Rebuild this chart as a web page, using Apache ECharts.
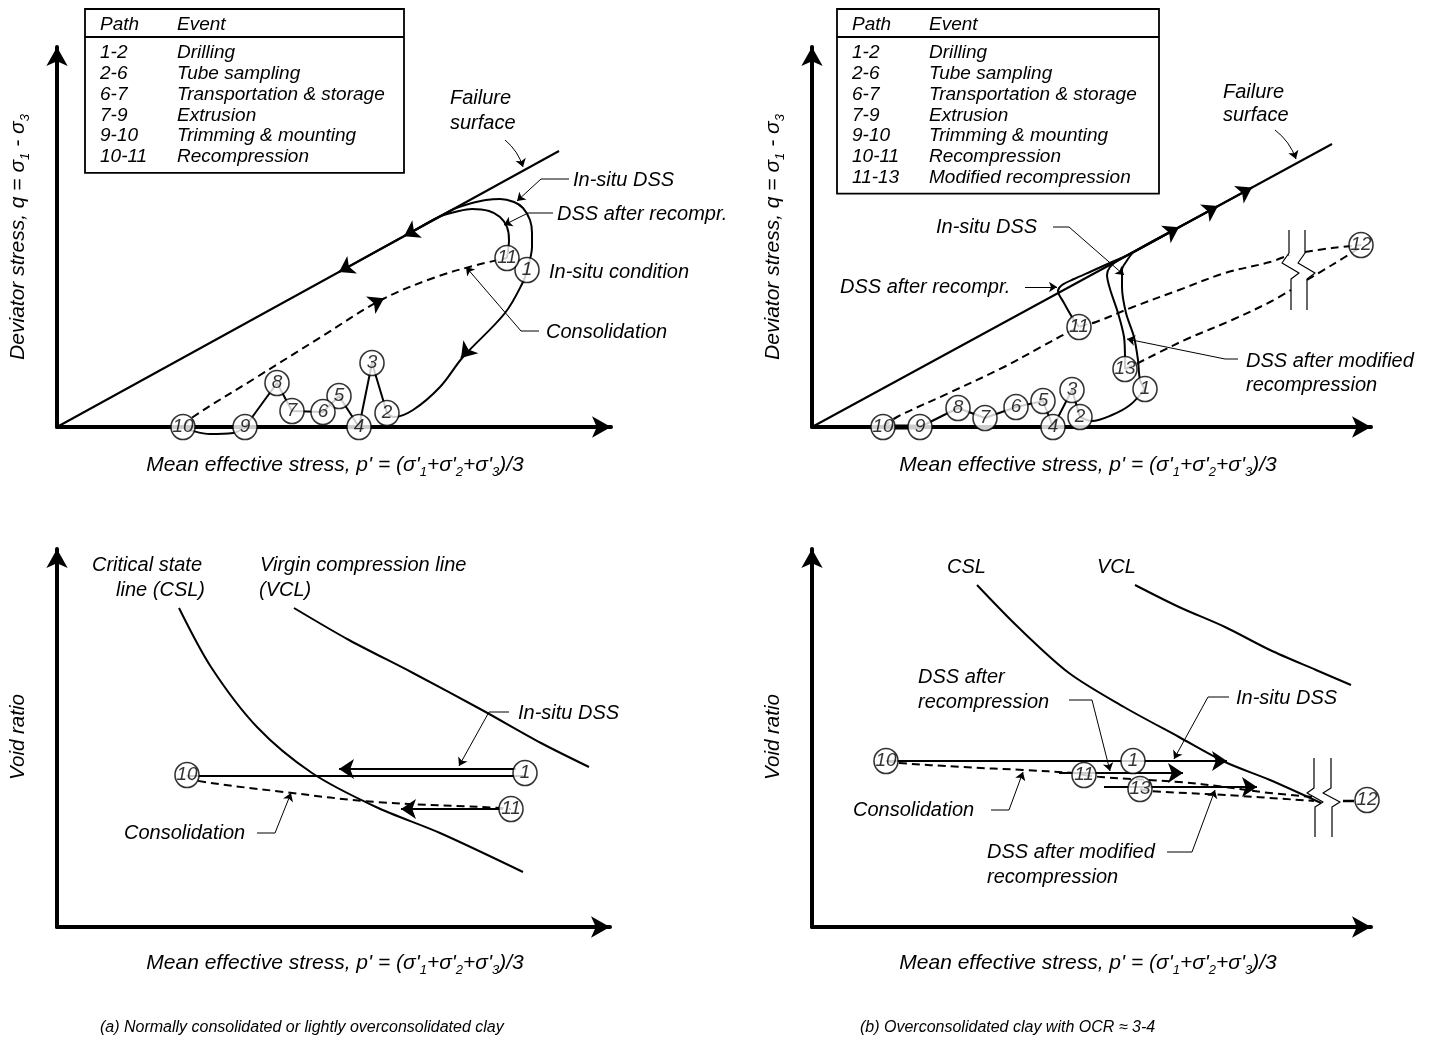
<!DOCTYPE html>
<html>
<head>
<meta charset="utf-8">
<script src="https://cdn.jsdelivr.net/npm/echarts@6/dist/echarts.min.js"></script>
<style>
html,body{margin:0;padding:0;background:#fff;}
#chart{width:1429px;height:1048px;}
</style>
</head>
<body>
<div id="chart"></div>
<script>
// ---------- (a) normally consolidated clay: stress paths in p'-q plane ----------
const aFailure = [[0, 0], [502, 276]];
const aNodes = [[470,157,'1'],[330,14,'2'],[315,64,'3'],[302,0,'4'],[282,31,'5'],[266,15,'6'],
                [235,16,'7'],[220,44,'8'],[188,0,'9'],[126,0,'10'],[450,169,'11']];
const aDrilling = [[470,157],[466,145],[448,114],[406,70],[383,40],[356,17],[337,10],[330,14]];
const aSampling = [[330,14],[315,64],[302,0],[282,31],[266,15],[235,16],[220,44],[188,0]];
const aTrimming = [[188,0],[176,-6],[153,-7],[136,-4],[126,0]];
const aConsolidation = [[126,0],[136,10],[200,50],[264,90],[324,127],[379,150],[420,162],[450,169]];
const aInsituDSS = [[470,157],[475,180],[475,194],[473,207],[466,219],[457,225],[443,228],[429,227],
                    [415,224],[402,220],[393,216],[340,187],[294,161.6]];
const aRecomprDSS = [[450,169],[452,187],[450,200],[443,210],[432,216],[415,218],[402,216],[383,210.6],[359,197.4]];
const aPathArrows = [[[411,77],[404,69]], [[318,124],[327,128.7]], [[294,161.6],[282,155]], [[359,197.4],[347,190.8]]];
const aLeaders = [[[512,248],[484,248],[460,226]], [[496,214],[471,214],[447,202]], [[482,96],[464,96],[409,160]]];
const aFailureLeader = [[448,287],[466,260]];

// ---------- (b) overconsolidated clay: stress paths in p'-q plane ----------
const bFailure = [[0,0],[520,283]];
const bNodes = [[333,38,'1'],[268,10,'2'],[260,37,'3'],[241,0,'4'],[231,26,'5'],[204,20,'6'],[173,9,'7'],
                [146,19,'8'],[108,0,'9'],[71,0,'10'],[267,100,'11'],[549,182,'12'],[313,58,'13']];
const bDrilling = [[333,38],[318,22],[300,12],[280,6],[268,10]];
const bSampling = [[268,10],[260,37],[241,0],[231,26],[204,20],[173,9],[146,19],[108,0]];
const bTrimming = [[108,0],[71,0]];
const bConsolidation = [[71,0],[85,10],[137,34],[192,60],[229,80],[267,100],[284,105],[321,120],[367,137],
                        [413,154],[458,165],[477,172]];
const bConsolidationEnd = [[493,175],[520,179],[549,182]];
const bUnloading = [[313,58],[322,62],[348,75],[375,88],[420,107],[458,125],[479,137]];
const bUnloadingEnd = [[495,147],[520,162],[549,180]];
const bInsituDSS = [[333,38],[328,47],[326,67],[322,90],[314,114],[310,140],[310,157],[314,165],[322,175],
                    [380,206.8],[428,232.9]];
const bModifiedDSS = [[313,58],[313,67],[312,90],[306,114],[298,138],[295,152],[298,160],[306,166.5],
                      [360,195.9],[394,214.4]];
const bRecomprDSS = [[267,100],[260,110],[252,124],[246,136],[250,142],[262,148],[280,156],[300,165],
                     [320,174.1],[355,193.2]];
const bBreakL = [[477,197],[477,174],[470,164],[487,154],[479,148],[479,117]];
const bBreakR = [[493,197],[493,174],[486,164],[503,154],[495,148],[495,117]];
const bPathArrows = [[[355,193.2],[367,199.7]], [[394,214.4],[406,220.9]], [[428,232.9],[440,239.5]]];
const bLeaders = [[[241,200],[257,200],[312,152]], [[213,140],[245,140]], [[426,68],[413,68],[315,88]]];
const bFailureLeader = [[463,297],[484,268]];

// ---------- (a) void ratio vs p' ----------
const cCSL = [[122,319],[154,260],[200,200],[255,154],[319,120],[383,94],[466,55]];
const cVCL = [[237,319],[292,287],[356,254],[425,217],[484,184],[532,160]];
const cNodes = [[130,152,'10'],[468,154,'1'],[454,118,'11']];
const cTrimmed = [[130,151],[468,151]];
const cConsolidation = [[130,152],[136,147],[227,135],[319,125],[445,119],[454,118]];
const cPathArrows = [[[459,158],[282,158]], [[446,118],[344,118]]];
const cLeaders = [[[452,215],[432,215],[402,161]], [[200,94],[218,94],[234,134]]];

// ---------- (b) void ratio vs p' ----------
const dCSL = [[165,342],[206,300],[257,254],[312,220],[367,190],[413,165],[458,147],[509,124]];
const dVCL = [[323,342],[367,320],[413,300],[458,277],[504,257],[539,242]];
const dNodes = [[74,166,'10'],[321,166,'1'],[272,152,'11'],[328,138,'13'],[555,127,'12']];
const dConsolidation = [[74,166],[87,164],[150,160],[211,157],[261,154],[272,152]];
const dToBreakA = [[272,152],[289,150],[367,145],[413,140],[458,134],[502,130]];
const dToBreakB = [[328,138],[339,136],[413,132],[502,126]];
const dAfterBreak = [[531,126],[542,126]];
const dBreakL = [[502,169],[502,139],[495,134],[511,125],[503,120],[503,90]];
const dBreakR = [[519,169],[519,139],[511,134],[528,125],[520,120],[520,90]];
const dPathArrows = [[[74,166],[415,166]], [[247,154],[371,154]], [[292,140],[445,140]]];
const dLeaders = [[[257,227],[280,227],[298,156]], [[417,230],[396,230],[362,168]],
                  [[179,117],[197,117],[211,155]], [[355,75],[380,75],[403,137]]];

// ---------- sampling event tables ----------
const tableA = [['1-2','Drilling'],['2-6','Tube sampling'],['6-7','Transportation & storage'],
                ['7-9','Extrusion'],['9-10','Trimming & mounting'],['10-11','Recompression']];
const tableB = tableA.concat([['11-13','Modified recompression']]);

// ---------- layout ----------
const FAM = '"Liberation Sans", Arial, Helvetica, sans-serif';
const font = s => `italic ${s}px ${FAM}`;
const grids = [
  {left: 57,  top: 47,  width: 554, height: 380},
  {left: 812, top: 47,  width: 559, height: 380},
  {left: 57,  top: 549, width: 553, height: 378},
  {left: 812, top: 549, width: 559, height: 378}
];
const axisLine = {show: true, onZero: false, symbol: ['none', 'arrow'], symbolSize: [16, 19],
                  lineStyle: {color: '#000', width: 4}};
const hidden = {axisTick: {show: false}, axisLabel: {show: false}, splitLine: {show: false}};
const xAxes = grids.map((g, i) => Object.assign({type: 'value', gridIndex: i, min: 0, max: g.width, axisLine}, hidden));
const yAxes = grids.map((g, i) => Object.assign({type: 'value', gridIndex: i, min: 0, max: g.height, axisLine}, hidden));

function curve(gi, pts, o) {
  o = o || {};
  return {type: 'line', xAxisIndex: gi, yAxisIndex: gi, data: pts, smooth: o.smooth === undefined ? 0.35 : o.smooth,
          symbol: 'none', clip: false, silent: true, z: o.z || 3,
          lineStyle: {color: '#000', width: o.w || 2, type: o.dash ? [8, 5] : 'solid', cap: 'butt', join: 'round'}};
}
function arrows(gi, segs, size, w, curveness) {
  return {type: 'lines', coordinateSystem: 'cartesian2d', xAxisIndex: gi, yAxisIndex: gi,
          data: segs.map(c => ({coords: c})), symbol: ['none', 'arrow'], symbolSize: size, clip: false, silent: true, z: 4,
          lineStyle: {color: '#000', width: w, opacity: 1, curveness: curveness || 0}};
}
// leader lines: polyline body + arrowed last leg
function leaders(gi, list) {
  const out = [];
  list.forEach(p => { if (p.length > 2) out.push(curve(gi, p.slice(0, -1), {smooth: false, w: 1})); });
  out.push(arrows(gi, list.map(p => p.slice(-2)), 8, 1));
  return out;
}
function nodes(gi, pts) {
  return {type: 'scatter', xAxisIndex: gi, yAxisIndex: gi, data: pts, symbol: 'circle', symbolSize: [24, 25],
          clip: false, silent: true, z: 6,
          itemStyle: {color: '#fff', borderColor: '#000', borderWidth: 1.6},
          label: {show: true, position: 'inside', formatter: p => p.value[2], color: '#000',
                  fontStyle: 'italic', fontSize: 19, fontFamily: FAM}};
}

const series = [
  // (a) p'-q
  curve(0, aFailure, {smooth: false}),
  curve(0, aDrilling), curve(0, aSampling, {smooth: false}), curve(0, aTrimming),
  curve(0, aConsolidation, {dash: true}),
  curve(0, aInsituDSS, {smooth: 0.3}), curve(0, aRecomprDSS, {smooth: 0.3}),
  arrows(0, aPathArrows, 15, 2),
  arrows(0, [aFailureLeader], 8, 1, 0.15),
  ...leaders(0, aLeaders),
  nodes(0, aNodes),
  // (b) p'-q
  curve(1, bFailure, {smooth: false}),
  curve(1, bDrilling), curve(1, bSampling, {smooth: false}), curve(1, bTrimming, {smooth: false, w: 5}),
  curve(1, bConsolidation, {dash: true}), curve(1, bConsolidationEnd, {dash: true}),
  curve(1, bUnloading, {dash: true}), curve(1, bUnloadingEnd, {dash: true}),
  curve(1, bInsituDSS, {smooth: 0.3}), curve(1, bModifiedDSS, {smooth: 0.3}), curve(1, bRecomprDSS, {smooth: 0.3}),
  curve(1, bBreakL, {smooth: false, w: 1.2}), curve(1, bBreakR, {smooth: false, w: 1.2}),
  arrows(1, bPathArrows, 15, 2),
  arrows(1, [bFailureLeader], 8, 1, 0.15),
  ...leaders(1, bLeaders),
  nodes(1, bNodes),
  // (a) e - p'
  curve(2, cCSL, {smooth: 0.3}), curve(2, cVCL, {smooth: 0.3}),
  curve(2, cTrimmed, {smooth: false}),
  curve(2, cConsolidation, {dash: true}),
  arrows(2, cPathArrows, 15, 2.2),
  ...leaders(2, cLeaders),
  nodes(2, cNodes),
  // (b) e - p'
  curve(3, dCSL, {smooth: 0.3}), curve(3, dVCL, {smooth: 0.3}),
  curve(3, dConsolidation, {dash: true}), curve(3, dToBreakA, {dash: true}), curve(3, dToBreakB, {dash: true}),
  curve(3, dAfterBreak, {smooth: false, w: 2.5}),
  curve(3, dBreakL, {smooth: false, w: 1.2}), curve(3, dBreakR, {smooth: false, w: 1.2}),
  arrows(3, dPathArrows, 15, 2.2),
  ...leaders(3, dLeaders),
  nodes(3, dNodes)
];

// ---------- text ----------
const NOTE = 20, AXIS = 21, TABLE = 19, CAPTION = 16;
const rich = {
  n: {font: font(AXIS), lineHeight: 28},
  s: {font: font(13), verticalAlign: 'bottom', lineHeight: 16}
};
function txt(x, y, text, o) {
  return Object.assign({type: 'text', x, y, silent: true, z: 10,
    style: Object.assign({text, font: font(NOTE), fill: '#000', align: 'left', verticalAlign: 'middle'}, (o && o.style) || {})},
    (o && o.el) || {});
}
const pLabel = "{n|Mean effective stress, p' = (σ'}{s|1}{n|+σ'}{s|2}{n|+σ'}{s|3}{n|)/3}";
const qLabel = "{n|Deviator stress, q = σ}{s|1}{n| - σ}{s|3}";
const richStyle = {rich, align: 'center', verticalAlign: 'middle'};
const qRich = {rich: {n: {font: font(21), lineHeight: 28}, s: {font: font(13), verticalAlign: 'bottom', lineHeight: 16}},
               align: 'center', verticalAlign: 'middle'};

function table(x, y, w, rows) {
  const els = [];
  const h = 28 + rows.length * 20.8 + 11;
  const tf = {font: font(TABLE)};
  els.push({type: 'rect', shape: {x, y, width: w, height: h}, style: {fill: '#fff', stroke: '#000', lineWidth: 1.8}, z: 9, silent: true});
  els.push({type: 'line', shape: {x1: x, y1: y + 28, x2: x + w, y2: y + 28}, style: {stroke: '#000', lineWidth: 2}, z: 9, silent: true});
  els.push(txt(x + 15, y + 16, 'Path', {style: tf}), txt(x + 92, y + 16, 'Event', {style: tf}));
  rows.forEach((r, i) => {
    els.push(txt(x + 15, y + 44 + i * 20.8, r[0], {style: tf}), txt(x + 92, y + 44 + i * 20.8, r[1], {style: tf}));
  });
  return els;
}

const graphic = [
  ...table(85, 9, 319, tableA),
  ...table(837, 9, 322, tableB),
  // (a) p'-q
  txt(450, 98, 'Failure'), txt(450, 123, 'surface'),
  txt(573, 180, 'In-situ DSS'), txt(557, 214, 'DSS after recompr.'),
  txt(549, 272, 'In-situ condition'), txt(546, 332, 'Consolidation'),
  txt(335, 465, pLabel, {style: richStyle}),
  txt(18, 237, qLabel, {style: qRich, el: {rotation: Math.PI / 2}}),
  // (b) p'-q
  txt(1223, 92, 'Failure'), txt(1223, 115, 'surface'),
  txt(936, 227, 'In-situ DSS'), txt(840, 287, 'DSS after recompr.'),
  txt(1246, 361, 'DSS after modified'), txt(1246, 385, 'recompression'),
  txt(1088, 465, pLabel, {style: richStyle}),
  txt(773, 237, qLabel, {style: qRich, el: {rotation: Math.PI / 2}}),
  // (a) e-p'
  txt(202, 565, 'Critical state', {style: {align: 'right'}}), txt(205, 590, 'line (CSL)', {style: {align: 'right'}}),
  txt(260, 565, 'Virgin compression line'), txt(259, 590, '(VCL)'),
  txt(518, 713, 'In-situ DSS'), txt(124, 833, 'Consolidation'),
  txt(335, 963, pLabel, {style: richStyle}),
  txt(18, 737, 'Void ratio', {style: {align: 'center', font: font(20.5)}, el: {rotation: Math.PI / 2}}),
  // (b) e-p'
  txt(947, 567, 'CSL'), txt(1097, 567, 'VCL'),
  txt(918, 677, 'DSS after'), txt(918, 702, 'recompression'),
  txt(1236, 698, 'In-situ DSS'), txt(853, 810, 'Consolidation'),
  txt(987, 852, 'DSS after modified'), txt(987, 877, 'recompression'),
  txt(1088, 963, pLabel, {style: richStyle}),
  txt(773, 737, 'Void ratio', {style: {align: 'center', font: font(20.5)}, el: {rotation: Math.PI / 2}}),
  // captions
  txt(100, 1028, '(a) Normally consolidated or lightly overconsolidated clay', {style: {font: font(CAPTION)}}),
  txt(860, 1028, '(b) Overconsolidated clay with OCR ≈ 3-4', {style: {font: font(CAPTION)}})
];

const chart = echarts.init(document.getElementById('chart'), null, {renderer: 'canvas'});
chart.setOption({
  animation: false,
  backgroundColor: '#fff',
  grid: grids,
  xAxis: xAxes,
  yAxis: yAxes,
  series,
  graphic
});
</script>
</body>
</html>
